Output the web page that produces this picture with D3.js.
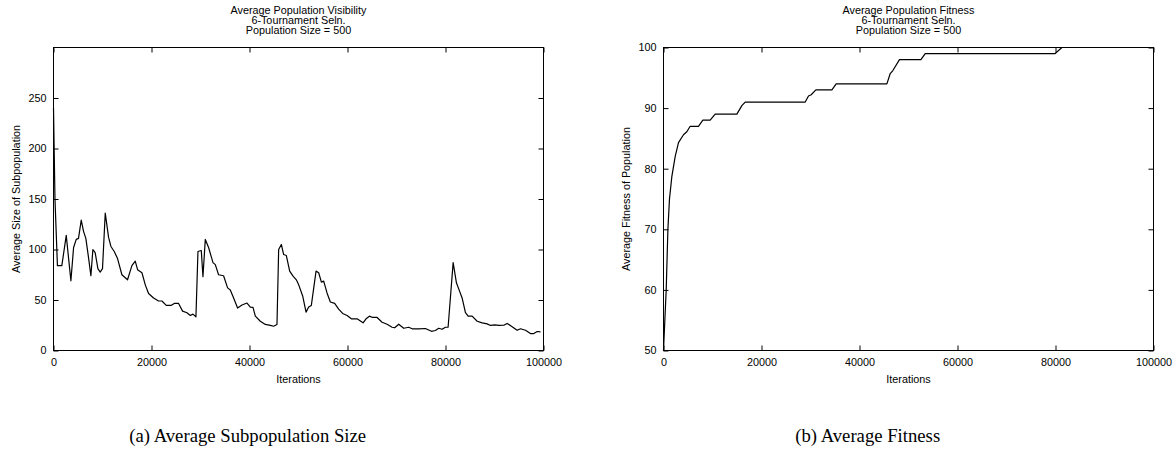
<!DOCTYPE html>
<html>
<head>
<meta charset="utf-8">
<script src="https://cdn.jsdelivr.net/npm/d3@7"></script>
<style>
  html, body { margin: 0; padding: 0; background: #fff; }
  svg { display: block; }
  .axis text { font-family: "Liberation Sans", Arial, sans-serif; font-size: 10.8px; fill: #000; }
  .axis line { stroke: #000; stroke-width: 1; }
  .lbl { font-family: "Liberation Sans", Arial, sans-serif; font-size: 10.8px; fill: #000; }
  .cap { font-family: "Liberation Serif", "Times New Roman", serif; font-size: 18.7px; fill: #000; }
</style>
</head>
<body>
<svg id="chart" width="1173" height="450"></svg>
<script>
// ---------- DATA ----------
// (a) Average subpopulation size vs iterations
const visIter = [0,300,800,1700,2600,3550,4100,4640,5100,5660,6130,6600,7150,7630,8040,8500,9060,9530,10000,
  10560,11240,11720,12400,13070,13960,15110,16000,16680,17160,18050,18730,19400,20420,21440,22130,23010,23970,
  24650,25530,26340,27240,27920,28460,29070,29480,30160,30500,30980,31650,32550,33020,33690,34710,35530,36080,
  36760,37570,38470,39490,40170,40710,41190,42210,43230,44250,44930,45610,45950,46500,46970,47520,48200,48890,
  49560,50040,50850,51540,52080,52620,53580,54120,54670,55140,55820,56500,57380,58200,59010,59910,60790,61950,
  63180,63790,64470,65140,66040,67060,68080,69100,69630,70450,71470,72490,73190,74540,75900,77130,77940,78620,
  79300,79990,80530,81560,82230,82850,83390,84070,84620,85430,86460,87480,88500,89180,90060,90870,91890,92580,
  93460,94620,95300,96320,97340,98030,98710,99390];
const visSize = [240,150,84,84,114,69,102,110,111,129,118,111,92,74,100,97,81,77.6,81,
  136,112,103,98,91,75,70,84,88.5,80,77,65,56.5,52,49,49,44.6,44.6,
  46.6,46.6,39,37.4,34.7,36,33.4,98,99,73,110,102,87,85,75,74,62,60,
  52,42,45,47,43,42.7,34,29,25.8,24.8,24,25.8,100,105,95,94,78.6,73.6,
  70,65,54,38,43,44.6,78.6,77,67.7,68.7,57,48,46.6,41,36.7,34.7,31.4,31.4,
  27.4,31.4,34,32.7,32.7,28,26,23,22.5,26,22,23,21.5,21.5,21.8,19,19.8,22,
  21,23,23,87,67,59,52,37.4,34,34,29,27.4,26.4,24.8,25.4,24.8,25,26.8,
  24,20,21.5,20,16.8,16.8,18.8,18.5];

// (b) Average fitness vs iterations
const fitIter = [0,550,900,1220,1700,2380,3060,4080,4760,5440,7140,8030,9520,10550,14970,15990,16670,
  28920,29590,30140,31100,34370,35240,45590,46270,46810,48160,52530,53410,79940,81300,100000];
const fitVal = [50,60,70,75,78.7,82,84.3,85.6,86.1,87,87,88,88,89,89,90.4,91,
  91,92,92.2,93,93,94,94,95.7,96.2,98,98,99,99,100,100];

const xTicks = [0,20000,40000,60000,80000,100000];
const visYTicks = [0,50,100,150,200,250];
const fitYTicks = [50,60,70,80,90,100];

const titlesA = ["Average Population Visibility","6-Tournament Seln.","Population Size = 500"];
const titlesB = ["Average Population Fitness","6-Tournament Seln.","Population Size = 500"];
const yLabelA = "Average Size of Subpopulation";
const yLabelB = "Average Fitness of Population";
const xLabel = "Iterations";
const captionA = "(a) Average Subpopulation Size";
const captionB = "(b) Average Fitness";

// ---------- DRAW ----------
const svg = d3.select("#chart");

function panel(cfg) {
  const {left, right, top, bottom, xs, ys, yDomain, yTicks, titles, yLabel, yLabelX, caption, captionX} = cfg;
  const x = d3.scaleLinear().domain([0,100000]).range([left, right]);
  const y = d3.scaleLinear().domain(yDomain).range([bottom, top]);
  const g = svg.append("g");
  const TL = 5;

  // bottom axis (ticks inward)
  g.append("g").attr("class","axis").attr("transform",`translate(0,${bottom})`)
    .call(d3.axisBottom(x).tickValues(xTicks).tickFormat(d3.format("d")).tickSize(-TL).tickSizeOuter(0).tickPadding(8))
    .call(s => s.select(".domain").remove());
  // top axis mirror
  g.append("g").attr("class","axis").attr("transform",`translate(0,${top})`)
    .call(d3.axisTop(x).tickValues(xTicks).tickFormat("").tickSize(-TL).tickSizeOuter(0))
    .call(s => s.select(".domain").remove());
  // left axis
  g.append("g").attr("class","axis").attr("transform",`translate(${left},0)`)
    .call(d3.axisLeft(y).tickValues(yTicks).tickFormat(d3.format("d")).tickSize(-TL).tickSizeOuter(0).tickPadding(7))
    .call(s => s.select(".domain").remove());
  // right axis mirror
  g.append("g").attr("class","axis").attr("transform",`translate(${right},0)`)
    .call(d3.axisRight(y).tickValues(yTicks).tickFormat("").tickSize(-TL).tickSizeOuter(0))
    .call(s => s.select(".domain").remove());

  // frame
  g.append("rect").attr("x", left).attr("y", top).attr("width", right-left).attr("height", bottom-top)
    .attr("fill","none").attr("stroke","#000").attr("stroke-width",1);

  // line
  const data = xs.map((d,i) => [d, ys[i]]);
  g.append("path").datum(data)
    .attr("fill","none").attr("stroke","#000").attr("stroke-width",1.2).attr("stroke-linejoin","round")
    .attr("d", d3.line().x(d => x(d[0])).y(d => y(d[1])));

  // titles
  const cx = (left+right)/2;
  titles.forEach((t,i) => {
    g.append("text").attr("class","lbl").attr("x",cx).attr("y",14 + i*9.8).attr("text-anchor","middle").text(t);
  });
  // x label
  g.append("text").attr("class","lbl").attr("x",cx).attr("y",382.5).attr("text-anchor","middle").text(xLabel);
  // y label
  g.append("text").attr("class","lbl")
    .attr("transform",`translate(${yLabelX},${(top+bottom)/2}) rotate(-90)`)
    .attr("dy","0.35em").attr("text-anchor","middle").text(yLabel);
  // caption
  g.append("text").attr("class","cap").attr("x",captionX).attr("y",441.5).attr("text-anchor","middle").text(caption);
}

panel({left:53.5, right:543.5, top:47.5, bottom:350.5, xs:visIter, ys:visSize, yDomain:[0,300], yTicks:visYTicks,
  titles:titlesA, yLabel:yLabelA, yLabelX:16, caption:captionA, captionX:247.7});
panel({left:663.5, right:1153.5, top:47.5, bottom:350.5, xs:fitIter, ys:fitVal, yDomain:[50,100], yTicks:fitYTicks,
  titles:titlesB, yLabel:yLabelB, yLabelX:626, caption:captionB, captionX:867.7});
</script>
</body>
</html>
